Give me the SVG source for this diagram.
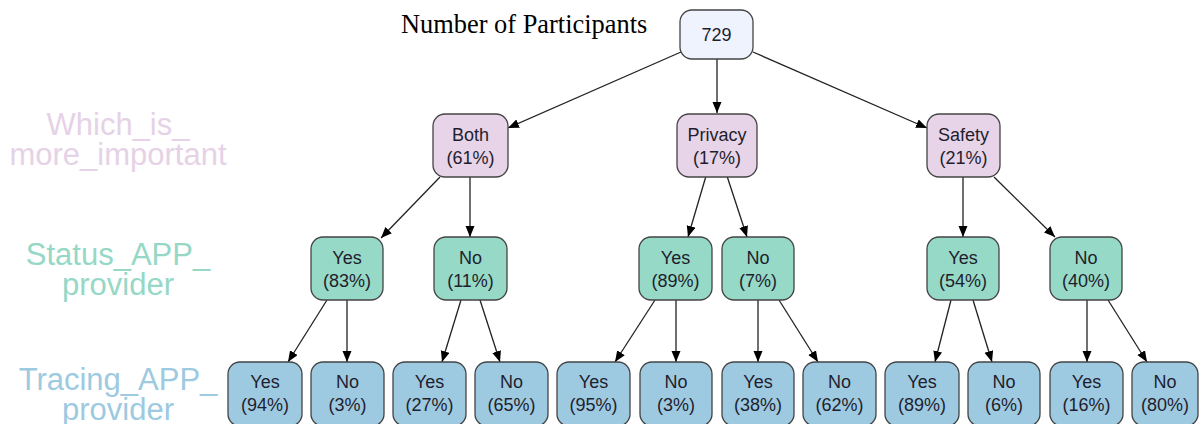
<svg xmlns="http://www.w3.org/2000/svg" width="1199" height="424" viewBox="0 0 1199 424">
<style>
.n rect{stroke:#444;stroke-width:1.3}
.n text{font-family:"Liberation Sans",Arial,sans-serif;font-size:18px;fill:#1e1e2e;text-anchor:middle}
.r rect{fill:#eef3fe}
.l1 rect{fill:#e8d4e8}
.l2 rect{fill:#96d9c6}
.l3 rect{fill:#9ecae1}
.lab{font-family:"Liberation Sans",Arial,sans-serif;font-size:31px;text-anchor:middle}
#edges line{stroke:#222;stroke-width:1.3;marker-end:url(#ah)}
</style>
<defs>
<marker id="ah" markerUnits="userSpaceOnUse" markerWidth="12" markerHeight="10" refX="11" refY="4.5" orient="auto">
<path d="M0,0 L11,4.5 L0,9 z" fill="#000"/>
</marker>
</defs>
<rect width="1199" height="424" fill="#fff"/>
<text x="401" y="33" font-family="'Liberation Serif','Times New Roman',serif" font-size="26.4" fill="#000">Number of Participants</text>
<g id="levels">
<text class="lab" fill="#e6d2e6" x="118" y="135">Which_is_</text>
<text class="lab" fill="#e6d2e6" x="118" y="165">more_important</text>
<text class="lab" fill="#96d8c6" x="118" y="265">Status_APP_</text>
<text class="lab" fill="#96d8c6" x="118" y="295">provider</text>
<text class="lab" fill="#9dcae0" x="118" y="390">Tracing_APP_</text>
<text class="lab" fill="#9dcae0" x="118" y="420">provider</text>
</g>
<g id="edges">
<line x1="681" y1="52" x2="508" y2="128"/>
<line x1="717" y1="59" x2="717" y2="113"/>
<line x1="753" y1="52" x2="927" y2="128"/>
<line x1="440" y1="177" x2="381" y2="238"/>
<line x1="470" y1="177" x2="470" y2="237"/>
<line x1="706" y1="176" x2="688" y2="237"/>
<line x1="727" y1="176" x2="747" y2="237"/>
<line x1="963" y1="177" x2="963" y2="237"/>
<line x1="994" y1="177" x2="1055" y2="237"/>
<line x1="327" y1="300" x2="288" y2="362"/>
<line x1="347" y1="300" x2="347" y2="362"/>
<line x1="461" y1="300" x2="442" y2="362"/>
<line x1="480" y1="300" x2="500" y2="362"/>
<line x1="655" y1="300" x2="615" y2="362"/>
<line x1="676" y1="300" x2="676" y2="362"/>
<line x1="758" y1="300" x2="758" y2="362"/>
<line x1="779" y1="300" x2="818" y2="362"/>
<line x1="951" y1="300" x2="935" y2="362"/>
<line x1="973" y1="300" x2="992" y2="362"/>
<line x1="1087" y1="300" x2="1087" y2="362"/>
<line x1="1108" y1="300" x2="1147" y2="362"/>
</g>
<g id="root" class="n r"><rect x="680" y="10" width="73" height="49" rx="12"/><text x="716.5" y="41">729</text></g>
<g id="both" class="n l1"><rect x="433" y="114" width="75" height="63" rx="12"/><text x="470.5" y="140.5">Both</text><text x="470.5" y="163.5">(61%)</text></g>
<g id="privacy" class="n l1"><rect x="677" y="114" width="80" height="63" rx="12"/><text x="717" y="140.5">Privacy</text><text x="717" y="163.5">(17%)</text></g>
<g id="safety" class="n l1"><rect x="927" y="114" width="73" height="63" rx="12"/><text x="963.5" y="140.5">Safety</text><text x="963.5" y="163.5">(21%)</text></g>
<g id="s_both_yes" class="n l2"><rect x="311" y="237" width="72" height="63" rx="12"/><text x="347" y="263.5">Yes</text><text x="347" y="286.5">(83%)</text></g>
<g id="s_both_no" class="n l2"><rect x="434" y="237" width="73" height="63" rx="12"/><text x="470.5" y="263.5">No</text><text x="470.5" y="286.5">(11%)</text></g>
<g id="s_priv_yes" class="n l2"><rect x="639" y="237" width="73" height="63" rx="12"/><text x="675.5" y="263.5">Yes</text><text x="675.5" y="286.5">(89%)</text></g>
<g id="s_priv_no" class="n l2"><rect x="722" y="237" width="72" height="63" rx="12"/><text x="758" y="263.5">No</text><text x="758" y="286.5">(7%)</text></g>
<g id="s_safe_yes" class="n l2"><rect x="927" y="237" width="72" height="63" rx="12"/><text x="963" y="263.5">Yes</text><text x="963" y="286.5">(54%)</text></g>
<g id="s_safe_no" class="n l2"><rect x="1050" y="237" width="72" height="63" rx="12"/><text x="1086" y="263.5">No</text><text x="1086" y="286.5">(40%)</text></g>
<g id="t1" class="n l3"><rect x="228" y="362" width="74" height="64" rx="12"/><text x="265" y="388">Yes</text><text x="265" y="411">(94%)</text></g>
<g id="t2" class="n l3"><rect x="311" y="362" width="73" height="64" rx="12"/><text x="347.5" y="388">No</text><text x="347.5" y="411">(3%)</text></g>
<g id="t3" class="n l3"><rect x="393" y="362" width="73" height="64" rx="12"/><text x="429.5" y="388">Yes</text><text x="429.5" y="411">(27%)</text></g>
<g id="t4" class="n l3"><rect x="475" y="362" width="73" height="64" rx="12"/><text x="511.5" y="388">No</text><text x="511.5" y="411">(65%)</text></g>
<g id="t5" class="n l3"><rect x="557" y="362" width="73" height="64" rx="12"/><text x="593.5" y="388">Yes</text><text x="593.5" y="411">(95%)</text></g>
<g id="t6" class="n l3"><rect x="640" y="362" width="72" height="64" rx="12"/><text x="676" y="388">No</text><text x="676" y="411">(3%)</text></g>
<g id="t7" class="n l3"><rect x="722" y="362" width="72" height="64" rx="12"/><text x="758" y="388">Yes</text><text x="758" y="411">(38%)</text></g>
<g id="t8" class="n l3"><rect x="803" y="362" width="73" height="64" rx="12"/><text x="839.5" y="388">No</text><text x="839.5" y="411">(62%)</text></g>
<g id="t9" class="n l3"><rect x="885" y="362" width="74" height="64" rx="12"/><text x="922" y="388">Yes</text><text x="922" y="411">(89%)</text></g>
<g id="t10" class="n l3"><rect x="968" y="362" width="72" height="64" rx="12"/><text x="1004" y="388">No</text><text x="1004" y="411">(6%)</text></g>
<g id="t11" class="n l3"><rect x="1050" y="362" width="73" height="64" rx="12"/><text x="1086.5" y="388">Yes</text><text x="1086.5" y="411">(16%)</text></g>
<g id="t12" class="n l3"><rect x="1132" y="362" width="66" height="64" rx="12"/><text x="1165" y="388">No</text><text x="1165" y="411">(80%)</text></g>
</svg>
